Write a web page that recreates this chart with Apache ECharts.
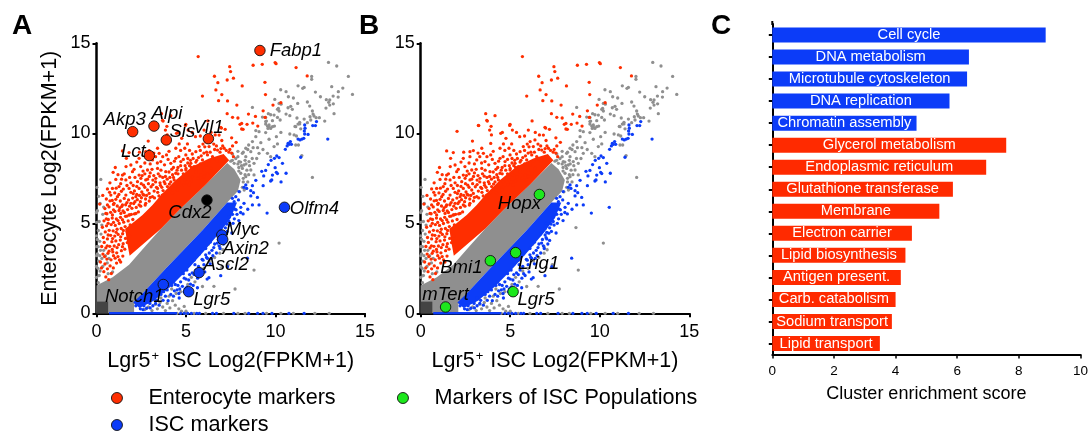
<!DOCTYPE html>
<html><head><meta charset="utf-8">
<style>html,body{margin:0;padding:0;background:#fff}#c{width:1091px;height:436px}</style>
<script src="https://cdn.jsdelivr.net/npm/echarts@6/dist/echarts.min.js"></script>
</head><body><div id="c"></div>
<script>
// ---------- values ----------
const grayCore = [[0,0],[2.1,0],[2.1,0.5],[2.57,1.1],[3.87,2.49],[5.92,4.62],[7.3,6.15],[7.9,6.8],[8.05,7.4],[7.7,8.0],[7.3,8.35],[6.1,7.15],[4.62,5.74],[3.6,4.7],[2.75,3.75],[1.82,2.7],[0.9,2.0],[0,1.55]];
const redCore = [[1.85,3.2],[3.6,4.7],[4.62,5.74],[6.11,7.15],[7.41,8.5],[7.1,8.85],[6.29,8.6],[5.36,8.15],[4.43,7.4],[3.68,6.66],[3.13,6.02],[2.57,5.46],[2.0,5.0],[1.6,4.7],[1.7,4.0]];
const blueCore = [[2.05,0.6],[2.57,1.1],[3.87,2.49],[5.92,4.62],[7.3,6.15],[7.85,6.15],[7.5,5.3],[6.9,4.5],[6.0,3.45],[5.1,2.45],[4.1,1.45],[3.2,0.7],[2.4,0.3]];
const originBlock = [[0,0],[0.65,0],[0.65,0.65],[0,0.65]];
const blueBase = [[0.7,0],[4.5,0]];

const grayPoints = [
[12.96,13.94],[13.42,13.74],[14.07,13.16],[14.3,12.16],[12.02,13.16],[12.02,13.0],[11.26,12.64],[11.6,12.55],[11.52,12.5],[13.14,12.59],[13.76,12.51],[13.51,12.31],[12.23,12.29],[10.29,12.42],[10.59,12.31],[10.72,12.03],[11.0,11.96],[12.51,12.03],[13.22,12.07],[12.84,11.87],[13.03,11.85],[13.5,12.01],[11.78,11.74],[11.24,11.66],[11.91,11.51],[12.97,11.72],[13.03,11.57],[13.23,11.64],[12.82,11.4],[13.27,11.09],[9.96,11.88],[8.71,11.44],[10.2,11.66],[10.31,11.62],[10.16,11.38],[10.11,11.33],[10.7,11.42],[10.85,11.5],[10.94,11.33],[10.2,11.24],[9.6,11.09],[9.73,11.03],[9.92,11.01],[10.59,11.07],[10.8,10.98],[9.27,10.9],[9.45,10.88],[10.11,10.88],[10.26,10.74],[9.83,10.7],[9.49,10.68],[11.2,10.85],[11.6,10.79],[12.06,11.24],[12.1,11.07],[11.93,10.92],[12.15,10.96],[12.45,10.87],[12.27,10.87],[12.75,10.68],[11.97,10.74],[11.78,10.59],[11.35,10.61],[11.26,10.51],[11.09,10.38],[11.41,10.25],[9.55,10.4],[9.64,10.37],[9.94,10.4],[9.45,10.51],[9.58,10.27],[9.73,10.27],
[9.45,10.65],[9.83,10.37],[9.64,10.46],[9.08,10.09],[9.45,10.04],[10.05,9.81],[9.64,9.67],[10.11,9.41],[9.92,9.26],[8.9,9.81],[8.71,9.54],[9.18,9.48],[8.34,9.17],[8.62,8.98],[9.08,8.89],[9.55,8.89],[9.73,8.7],[8.34,8.7],[8.15,8.89],[8.8,8.33],[8.52,8.43],[7.96,8.43],[7.69,8.33],[8.24,8.24],[8.62,7.96],[8.06,7.78],[8.34,7.59],[8.8,7.69],[7.78,8.6],[7.59,8.5],[8.2,7.3],[8.4,7.95],[11.17,9.85],[11.13,9.35],[11.28,9.35],[11.13,10.37],[11.35,10.52],[11.47,8.76],[12.06,7.55],[8.67,4.76],[10.8,9.96],[11.04,9.91],[8.95,8.6],[9.3,9.1],[9.0,9.2],[8.5,9.35],[8.1,8.2],[8.9,10.15],[10.3,10.05],[7.9,9.0],
[7.5,8.45],[7.9,8.3],[8.15,8.05],[8.3,7.7],[8.2,7.5],[7.95,7.9],[8.05,8.4],[8.35,8.3],[8.55,8.2],[8.5,7.7],[8.15,7.0],[8.0,6.75],[7.95,8.1],[8.25,6.85],[8.45,7.3],[7.6,8.85],[7.9,8.7],[8.3,8.5],[8.2,8.95],[8.7,8.6],[8.45,9.1],[8.75,9.2],
[0.1,1.7],[0.15,2.1],[0.08,2.5],[0.2,2.35],[0.12,2.9],[0.05,3.3],[0.18,3.2],[0.3,3.05],[0.1,3.7],[0.22,3.5],[0.05,4.1],[0.18,4.0],[0.25,4.4],[0.1,4.6],[0.3,4.9],[0.15,5.1],[0.4,3.5],[0.5,3.2],[0.35,2.6],[0.65,2.2],[0.9,2.3],[0.6,2.8],[0.35,5.5],[0.05,5.7],[0.2,6.1],[0.24,7.44],[0.12,6.5],[0.02,7.0],[0.4,5.9],[0.7,3.05],
[2.7,0.2],[2.9,0.35],[3.1,0.15],[3.3,0.5],[3.4,0.25],[3.55,0.6],[3.7,0.35],[3.85,0.15],[3.95,0.55],[4.1,0.3],[4.25,0.7],[4.4,0.45],[4.6,0.25],[4.75,0.12],[4.9,0.38],[5.0,0.12],[3.6,0.85],[3.25,0.8],[4.05,0.95],[4.45,1.1],[4.2,1.35],[4.7,1.2],[5.1,1.6],[5.5,1.75],[5.3,2.0],[5.7,2.35],[6.0,2.5],[6.3,2.9],[6.6,3.1],[5.92,1.49],[6.56,1.5],[7.74,1.35],[6.26,3.85],[6.89,3.34],[7.06,3.53],[6.89,3.7],[8.8,2.4],[10.2,3.9],[7.35,2.7],[7.0,2.55],[2.8,0.6],[3.0,0.65],
[4.5,0],[5.0,0],[5.45,0],[6.1,0],[7.1,0],[7.9,0],[8.3,0],[9.5,0],[10.3,0],[11.0,0],[12.2,0],[13.0,0],
[0,2.0],[0,2.6],[0,3.2],[0,3.7],[0,4.3],[0,5.05],[0,5.6]
];

const redPoints = [
[5.68,14.26],[7.44,13.7],[7.49,13.43],[7.65,13.06],[7.3,12.96],[8.14,12.63],[8.75,13.78],[9.26,13.83],[9.98,13.93],[10.03,13.87],[11.15,13.65],[11.77,13.19],[9.41,12.83],[9.44,12.15],[6.59,13.17],[6.78,12.81],[6.67,12.41],[7.0,12.15],[5.92,12.07],[6.82,11.81],[7.32,11.8],[7.84,11.57],[9.86,11.57],[10.3,11.7],[9.31,11.25],[8.49,11.07],[7.3,11.09],[7.6,10.89],[7.9,10.85],[8.88,10.94],[9.42,10.88],[8.11,10.55],[8.02,10.5],[8.41,10.5],[8.73,10.57],[9.01,10.4],[8.11,10.24],[8.19,10.22],
[3.63,11.09],[4.15,10.98],[3.69,10.72],[3.24,10.43],[2.03,10.11],[3.93,10.39],[4.99,10.5],[6.22,10.69],[6.98,10.29],[3.22,10.44],[3.72,10.68],[3.85,10.18],[3.95,9.91],[4.47,10.0],[4.56,10.05],[4.97,10.44],[5.12,10.18],[5.53,9.81],[6.01,10.18],[4.76,9.72],[3.91,9.44],[4.62,9.41],[5.08,9.41],[4.43,9.17],[4.93,9.17],[5.73,9.26],[6.11,9.54],[6.38,9.63],[6.63,9.91],[6.94,10.33],[7.19,10.22],[6.29,9.26],[6.76,9.07],[7.13,9.17],[1.45,9.02],[1.82,8.93],[2.89,9.57],[2.75,8.98],[2.94,9.04],[3.41,9.17],[3.5,8.89],[3.91,8.8],[4.43,8.61],[4.99,8.8],[5.55,8.98],[1.67,8.61],[2.38,8.61],[2.75,8.7],[3.13,8.52],[3.59,8.43],[4.15,8.33],[4.71,8.43],[5.27,8.33],[5.92,8.52],[6.48,8.7],[1.92,8.24],[2.47,8.15],[0.93,7.83],[1.45,7.68],[2.01,7.87],[2.38,7.68],[2.85,7.96],[3.41,8.05],[3.87,7.87],[4.43,7.78],[4.99,7.96],[5.45,8.15],[6.01,7.96],[1.08,7.44],[1.64,7.41],[2.29,7.31],[2.75,7.41],[3.31,7.5],[3.78,7.31],[4.34,7.41],[4.8,7.5],[5.36,7.59],[5.83,7.68],
[0.61,6.91],[0.89,6.94],[1.26,7.04],[1.82,6.94],[2.38,6.94],[2.85,6.85],[3.41,6.94],[3.96,7.04],[4.62,7.04],[5.17,7.13],[0.8,6.57],[1.17,6.48],[1.64,6.57],[2.2,6.48],[2.66,6.57],[3.13,6.48],[3.68,6.57],[4.24,6.67],[0.18,6.07],[0.61,6.02],[0.98,6.11],[1.45,6.02],[1.92,6.11],[2.38,6.02],[2.75,6.11],[0.52,5.55],[0.89,5.46],[1.36,5.55],[1.82,5.46],[2.2,5.55],
[0.22,2.85],[0.28,2.52],[0.41,2.31],[0.52,2.02],[0.68,1.87],[0.83,2.21],[0.61,2.47],[0.47,2.74],[0.76,2.63],[0.94,2.52],[1.12,2.79],[0.58,3.01],[0.81,2.97],[1.04,3.06],[1.28,2.96],[1.47,3.18],[1.35,2.85],
[0.36,3.29],[0.64,3.33],[0.91,3.41],[1.13,3.36],[1.39,3.48],[1.58,3.56],[0.29,3.71],[0.52,3.63],[0.74,3.72],[0.99,3.74],[1.24,3.81],[1.49,3.87],[1.72,3.93],[0.43,3.94],[0.86,3.98],[1.08,4.02],[1.33,4.07],[1.62,4.16],[1.85,4.28],
[0.38,4.21],[0.61,4.13],[0.79,4.33],[1.02,4.29],[1.21,4.38],[1.46,4.42],[1.71,4.55],[0.49,4.52],[0.71,4.61],[0.93,4.58],[1.15,4.67],[1.38,4.71],[1.6,4.82],[1.88,4.91],[0.56,4.86],[0.82,4.93],[1.05,4.88],[1.27,4.99],[1.52,5.06],[1.77,5.13],[2.03,5.21],[0.33,4.78],
[0.42,5.14],[0.66,5.21],[0.88,5.29],[1.11,5.24],[1.34,5.33],[1.62,5.39],[1.86,5.47],[2.12,5.52],[2.34,5.63],[0.58,5.53],[0.79,5.61],[1.03,5.66],[1.26,5.71],[1.48,5.69],[1.74,5.76],[1.98,5.83],[2.22,5.88],[2.47,5.95],[0.47,5.82],[0.7,5.91],[1.16,5.96],[1.41,5.94],[1.63,6.03],[2.72,6.01],[2.08,6.1],[2.95,6.24],
[0.88,6.27],[1.08,6.33],[1.33,6.24],[1.55,6.38],[1.79,6.3],[2.02,6.4],[2.28,6.31],[2.51,6.42],[2.74,6.35],[3.0,6.44],[3.24,6.41],[3.49,6.52],[0.73,6.72],[1.02,6.69],[1.39,6.78],[1.92,6.72],[2.12,6.8],[2.53,6.74],[2.94,6.66],[3.22,6.79],[3.42,6.72],[3.72,6.82],[3.9,6.71],[4.1,6.91],[4.4,7.05],[4.52,6.86],[3.05,7.03],[2.63,7.12],[3.57,7.11],[3.83,7.2],[4.07,7.18],
[1.35,7.2],[1.92,7.25],[2.48,7.5],[2.95,7.6],[3.55,7.62],[4.1,7.55],[4.55,7.75],[4.62,7.3],[4.95,7.4],[5.12,7.7],[5.3,7.35],[5.55,7.85],[5.67,7.5],[4.86,7.15],[5.05,7.28],[5.9,7.4],[6.0,7.6],[6.2,7.75],[6.4,8.05],[6.12,8.25],[6.72,8.45],[6.9,8.65],[5.8,8.3],[6.55,8.6],[6.3,8.45],[5.3,8.1],[4.55,8.1],[4.2,8.0],[3.1,8.0],[2.1,8.0],[2.6,7.9],
[3.3,8.7],[4.0,8.55],[4.6,8.7],[5.1,8.6],[5.6,8.5],[6.2,8.8],[6.9,8.95],[7.05,9.3],[7.4,8.95],[7.6,9.3],[7.8,9.5],[7.55,9.75],[7.0,9.6],[6.85,9.9],[6.4,10.05],[5.8,9.85],[5.35,10.05],
[2.05,6.65],[2.25,6.6],[2.45,6.2],[2.6,6.6],[2.8,6.55],[2.05,7.1],[2.25,7.05],[2.5,7.2],[2.7,7.0],[2.9,7.2],[3.15,7.15],[3.3,7.3],[2.15,7.55],[2.55,7.65],[2.7,7.75],[3.0,7.8],[3.2,7.65],[3.45,7.75],[3.6,7.95],[3.7,7.55],[3.85,7.6],[3.95,7.45],[4.05,7.85],[4.25,7.7],[4.3,8.1],[4.5,7.95],[4.7,8.2],[4.85,7.75],[4.95,8.2],[5.1,8.35],[5.25,8.5],[5.4,8.6],[5.55,8.4],[5.7,8.65],[5.85,8.75],[6.0,8.9],[6.15,8.95],[6.35,8.95],[6.6,9.1],[6.7,9.3],[6.95,9.15],[7.25,9.05],[7.45,9.1],[7.55,8.9],[7.65,8.7],[3.55,7.25],[3.15,7.4],[2.85,7.45],[3.35,7.0],[3.65,7.0],[4.15,7.3],[4.3,7.55],[4.75,7.95],[5.0,8.05],[5.2,8.2],[3.8,8.25],[3.4,8.35],[3.0,8.3],[2.7,8.35],[2.25,8.4],[4.35,8.45],[4.85,8.55],[5.35,8.85],[5.8,9.05],[6.05,9.25],[4.05,9.0],[3.7,8.7],[3.2,8.9],[2.4,8.95],[4.7,9.05],[5.2,9.05],[5.95,9.4],[6.55,9.4],
[0.55,6.35],[0.35,6.55],[1.25,6.6],[1.5,6.9],[1.7,7.1],[1.1,6.95],[1.4,7.45],[1.85,7.55],[1.55,7.75],[1.2,7.7],[0.75,7.25],[1.05,8.1],[1.65,8.15],[0.65,4.35],[0.9,4.15],[1.1,4.5],[1.35,4.25],[1.5,4.6],[0.6,3.75],[0.88,3.55],[1.15,3.65],[0.95,3.2],[1.2,3.15],[0.7,3.45],[0.45,3.15],[1.45,3.7],[0.65,5.0],[0.95,5.05],[1.2,5.15],[1.45,5.2],[1.7,5.4],[1.95,5.5],[0.55,5.25],[0.95,5.75],[1.3,5.85],[1.55,5.6],[1.85,5.95],[2.15,6.2],[2.4,6.55],[1.7,6.15],[0.95,6.05],[0.75,6.25]
];

const bluePoints = [
[12.92,9.68],[12.23,10.43],[12.08,10.43],[11.63,10.46],[12.29,10.65],[11.65,10.28],[11.61,10.13],[11.82,9.94],[11.63,9.96],[11.26,9.68],[11.37,9.63],[11.48,9.68],[11.58,9.72],[10.83,9.54],[10.7,9.44],[10.65,9.3],[10.55,9.11],[10.76,9.39],[10.89,9.39],[11.41,8.67],[10.07,8.74],[9.94,8.61],[10.2,8.65],[10.39,8.33],[9.75,8.5],[9.6,8.26],[9.98,8.09],[10.05,7.83],[10.11,7.76],[9.45,7.94],[9.23,7.89],[10.59,7.78],[9.34,7.63],[9.83,7.68],[9.73,7.35],[9.79,7.41],[10.31,7.3],[8.9,7.39],[9.31,7.09],[8.34,7.13],[8.24,7.0],[8.39,6.94],[8.71,7.09],[8.62,6.81],[8.77,6.7],[8.62,6.52],[8.99,6.44],[7.96,6.76],[7.78,6.48],[7.59,6.39],[7.93,6.3],[7.69,6.2],[8.24,6.11],[8.06,5.89],[8.71,6.02],[8.45,5.78],[9.08,6.02],[8.19,5.52],[9.53,5.57],[10.53,5.89],[7.63,5.0],[7.5,5.96],[7.31,5.83],[7.5,5.74],[7.74,5.78],[7.41,5.37],[7.28,4.96],
[2.2,0.42],[2.45,0.25],[2.65,0.42],[2.8,0.28],[2.98,0.55],[3.15,0.42],[3.35,0.72],[3.5,0.45],[3.72,0.72],[3.85,0.95],[4.0,0.7],[4.15,1.05],[4.3,0.95],[4.5,1.3],[4.62,0.85],[4.8,1.5],[4.95,1.35],[4.4,1.6],[4.7,1.75],[5.0,1.9],[5.2,2.15],[5.4,1.55],[5.25,1.62],[5.55,2.4],[5.75,2.2],[5.64,1.42],[5.83,2.1],[6.18,1.9],[6.28,1.98],[6.94,2.09],[7.32,2.59],[8.43,3.06],[6.0,2.7],[5.9,3.0],[6.15,3.1],[6.3,3.35],[6.5,3.2],[6.35,2.75],[6.55,3.65],[6.75,3.9],[6.9,3.6],[6.95,4.35],[7.04,4.13],[7.04,4.5],[6.94,4.7],[7.56,4.46],[7.2,4.75],[7.4,5.1],[7.0,5.0],[7.6,5.5],[7.8,5.75],[5.2,2.7],[5.45,2.95],[5.75,3.3],[6.1,3.6],[6.35,3.95],[6.7,4.4],[4.85,2.2],[4.3,1.75],[3.95,1.3],[3.5,1.1],[3.15,0.85],
[4.9,1.95],[5.05,2.4],[5.35,2.25],[5.5,2.7],[5.7,2.6],[5.95,2.95],[6.1,3.25],[6.2,3.05],[6.45,3.5],[6.6,3.85],[6.8,4.1],[6.85,3.75],[7.0,4.2],[7.15,4.45],[7.3,4.55],[7.45,4.9],[7.7,5.25],[7.85,5.5],[8.05,5.6],[7.95,5.15],[4.35,1.25],[4.55,1.55],[4.65,1.35],[3.6,1.05],[3.75,1.2],[4.2,1.55],[3.3,0.55],[3.0,0.3],[2.6,0.2],[4.6,1.1],[4.9,1.2],[5.15,1.85],[5.45,2.15],[5.65,1.95],[5.05,1.45],[6.05,2.3],[6.4,3.05],[6.7,3.35],[7.1,3.85],[7.2,4.05],
[4.7,0],[4.9,0],[5.1,0],[5.3,0],[5.6,0],[5.75,0],[6.48,0],[6.7,0],[7.67,0],[8.5,0],[9.0,0],[9.3,0],[9.8,0],[10.75,0],[11.6,0]
];

const panelAEnterocyteNames = ['Fabp1','Akp3','Alpi','Sis','Vil1','Lct'];
const panelAEnterocyteValues = [[9.13,14.6],[2.02,10.09],[3.21,10.4],[3.9,9.63],[6.25,9.7],[2.95,8.76]];
const panelAIscNames = ['Olfm4','Myc','Axin2','Ascl2','Notch1','Lgr5'];
const panelAIscValues = [[10.5,5.89],[7.0,4.35],[7.05,4.1],[5.73,2.26],[3.73,1.6],[5.15,1.2]];
const panelACdxName = ['Cdx2'];
const panelACdxValue = [[6.17,6.29]];
const panelBNames = ['Hopx','Bmi1','Lrig1','Lgr5','mTert'];
const panelBValues = [[6.63,6.6],[3.89,2.92],[5.3,3.37],[5.16,1.2],[1.39,0.35]];

const enrichCategories = ['Cell cycle','DNA metabolism','Microtubule cytoskeleton','DNA replication','Chromatin assembly','Glycerol metabolism','Endoplasmic reticulum','Glutathione transferase','Membrane','Electron carrier','Lipid biosynthesis','Antigen present.','Carb. catabolism','Sodium transport','Lipid transport'];
const enrichScores = [8.87,6.38,6.32,5.75,4.68,7.59,6.94,5.86,5.42,4.53,4.32,4.17,4.0,3.88,3.49];
const iscClusterCount = 5;

// ---------- styling ----------
const RED='#ff2e00', BLUE='#0c3cf8', GRAY='#8f8f8f', GREEN='#1ce81c';
const FONT='"Liberation Sans", Arial, sans-serif';
const labelOffsets = {
  Fabp1:[36,0],Akp3:[-8,-12],Alpi:[13,-12],Sis:[16,-8],Vil1:[0,-11],Lct:[-16,-4],
  Cdx2:[-17,13],Olfm4:[30,2],Myc:[21,-5],Axin2:[23,9],Ascl2:[27,-8],Notch1:[-29,12],Lgr5:[23,8],
  Hopx:[-20,9],Bmi1:[-29,7],Lrig1:[23,11],mTert:[0,-12]
};

function poly(verts,color,g,z,name){
  return {type:'custom',name,xAxisIndex:g,yAxisIndex:g,z,clip:false,silent:true,data:[verts[0]],
    renderItem(p,api){return {type:'polygon',shape:{points:verts.map(v=>api.coord(v))},style:{fill:color}};}};
}
function dots(data,color,g,z){
  return {type:'scatter',xAxisIndex:g,yAxisIndex:g,z,clip:false,silent:true,symbolSize:3.3,data,itemStyle:{color,opacity:1}};
}
function markers(name,names,vals,color,g){
  return {type:'scatter',name,xAxisIndex:g,yAxisIndex:g,z:10,clip:false,symbolSize:10.5,
    itemStyle:{color,borderColor:'#111',borderWidth:0.9,opacity:1},
    data:names.map((n,i)=>({name:n,value:vals[i],
      label:{show:true,position:'inside',offset:labelOffsets[n],formatter:'{b}',fontFamily:FONT,fontStyle:'italic',fontSize:18.5,color:'#000',opacity:1}}))};
}
function backdrop(g){
  return [
    poly(grayCore,GRAY,g,2,'gray core'),
    dots(grayPoints,GRAY,g,3),
    poly(redCore,RED,g,4,'red core'),
    dots(redPoints,RED,g,5),
    poly(blueCore,BLUE,g,4,'blue core'),
    dots(bluePoints,BLUE,g,5),
    {type:'line',xAxisIndex:g,yAxisIndex:g,z:5,clip:false,silent:true,showSymbol:false,data:blueBase,lineStyle:{color:BLUE,width:2.4}},
    poly(originBlock,'#444444',g,6,'origin block')
  ];
}
function xScatter(g){
  return {type:'value',gridIndex:g,min:0,max:15,interval:5,splitLine:{show:false},
    axisLine:{show:true,onZero:false,lineStyle:{color:'#000',width:2}},
    axisTick:{show:true,length:4,lineStyle:{color:'#000',width:2}},
    axisLabel:{color:'#000',fontFamily:FONT,fontSize:18,margin:10},
    name:'{a|Lgr5}{s|+}{a| ISC Log2(FPKM+1)}',nameLocation:'middle',nameGap:37,
    nameTextStyle:{color:'#000',rich:{a:{fontFamily:FONT,fontSize:21.5,color:'#000'},s:{fontFamily:FONT,fontSize:13,color:'#000',verticalAlign:'top',padding:[0,1,0,1]}}}};
}
function yScatter(g,title){
  const a={type:'value',gridIndex:g,min:0,max:15,interval:5,splitLine:{show:false},
    axisLine:{show:true,onZero:false,lineStyle:{color:'#000',width:2.5}},
    axisTick:{show:true,length:4,lineStyle:{color:'#000',width:2}},
    axisLabel:{color:'#000',fontFamily:FONT,fontSize:18,margin:6,padding:[4,0,0,0]}};
  if(title){
    a.name=title;
    a.nameLocation='middle';
    a.nameGap=35;
    a.nameTextStyle={color:'#000',fontFamily:FONT,fontSize:21.5};
  }
  return a;
}
const barData = enrichScores.map((v,i)=>({value:v,itemStyle:{color:i<iscClusterCount?'#0c3cf8':'#ff2a00'}}));
const legendText = {color:'#000',fontFamily:FONT,fontSize:21.6,padding:[0,0,0,21]};
const letter = {fontFamily:FONT,fontWeight:'bold',fontSize:28,color:'#000'};
function legendRow(name,left,top){
  return {orient:'horizontal',left,top,itemWidth:11,itemHeight:11,padding:0,data:[name],textStyle:legendText,selectedMode:false,itemStyle:{borderWidth:0.9,borderColor:'#111'}};
}

const option = {
  animation:false,
  backgroundColor:'#fff',
  title:[
    {text:'A',left:12,top:12,padding:0,textStyle:letter},
    {text:'B',left:359,top:12,padding:0,textStyle:letter},
    {text:'C',left:711,top:12,padding:0,textStyle:letter}
  ],
  legend:[
    legendRow('Enterocyte markers',111,387),
    legendRow('ISC markers',111,414),
    legendRow('Markers of ISC Populations',397,387)
  ],
  grid:[
    {left:96.5,top:43.3,width:268.5,height:270},
    {left:420.7,top:43.3,width:268.6,height:270},
    {left:772.3,top:24,width:310,height:330.5}
  ],
  xAxis:[
    xScatter(0),xScatter(1),
    {type:'value',gridIndex:2,min:0,max:10,interval:2,splitLine:{show:false},
     axisLine:{show:true,onZero:false,lineStyle:{color:'#000',width:2}},
     axisTick:{show:true,length:4,lineStyle:{color:'#000',width:1.5}},
     axisLabel:{color:'#000',fontFamily:FONT,fontSize:13.5,margin:10},
     name:'Cluster enrichment score',nameLocation:'middle',nameGap:31,
     nameTextStyle:{color:'#000',fontFamily:FONT,fontSize:18}}
  ],
  yAxis:[
    yScatter(0,'Enterocyte Log2(FPKM+1)'),yScatter(1),
    {type:'category',gridIndex:2,inverse:true,data:enrichCategories,
     axisLine:{show:true,onZero:false,lineStyle:{color:'#000',width:2}},
     axisTick:{show:true,length:3.5,alignWithLabel:true,lineStyle:{color:'#000',width:2}},
     axisLabel:{show:false}}
  ],
  series:[
    ...backdrop(0),
    markers('Enterocyte markers',panelAEnterocyteNames,panelAEnterocyteValues,RED,0),
    markers('ISC markers',panelAIscNames,panelAIscValues,BLUE,0),
    markers('Cdx2',panelACdxName,panelACdxValue,'#000',0),
    ...backdrop(1),
    markers('Markers of ISC Populations',panelBNames,panelBValues,GREEN,1),
    {type:'bar',xAxisIndex:2,yAxisIndex:2,barWidth:15,data:barData,
     label:{show:true,position:'inside',formatter:'{b}',color:'#fff',fontFamily:FONT,fontSize:14.7}}
  ],
  graphic:[{type:'rect',silent:true,shape:{x:771.3,y:21,width:2,height:4},style:{fill:'#000'}}]
};
echarts.init(document.getElementById('c'),null,{renderer:'canvas'}).setOption(option);
</script>
</body></html>
